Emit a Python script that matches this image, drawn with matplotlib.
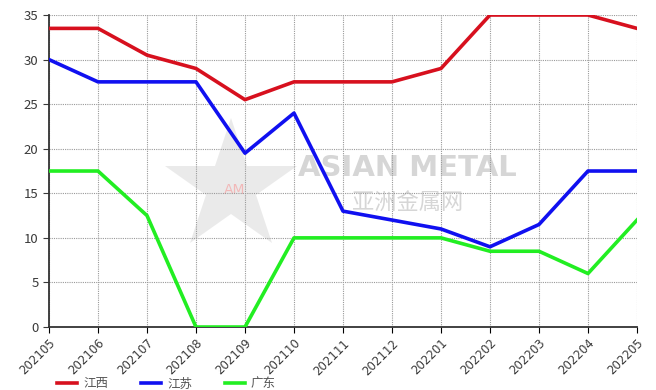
import matplotlib.pyplot as plt
import numpy as np

plt.rcParams['font.family'] = ['Noto Sans CJK SC', 'DejaVu Sans']

months = ['202105', '202106', '202107', '202108', '202109', '202110', '202111',
          '202112', '202201', '202202', '202203', '202204', '202205']
jiangxi = [33.5, 33.5, 30.5, 29, 25.5, 27.5, 27.5, 27.5, 29, 35, 35, 35, 33.5]
jiangsu = [30, 27.5, 27.5, 27.5, 19.5, 24, 13, 12, 11, 9, 11.5, 17.5, 17.5]
guangdong = [17.5, 17.5, 12.5, 0, 0, 10, 10, 10, 10, 8.5, 8.5, 6, 12]

series = [('江西', jiangxi, '#d7101e'), ('江苏', jiangsu, '#1010f0'), ('广东', guangdong, '#22ee22')]

fig = plt.figure(figsize=(6.56, 3.9), dpi=100)
ax = fig.add_axes([0.0747, 0.1615, 0.8963, 0.80])

x = np.arange(len(months))

# watermark
ax.plot([0.31], [0.45], marker='*', markersize=100, color='#e2e2e2', alpha=0.7,
        transform=ax.transAxes, zorder=0, markeredgewidth=0)
ax.text(0.315, 0.44, 'AM', color='#f2b8b8', fontsize=10, ha='center', va='center',
        transform=ax.transAxes, zorder=0, family='DejaVu Sans')
ax.text(0.61, 0.51, 'ASIAN METAL', color='#d6d6d6', fontsize=21, fontweight='bold',
        ha='center', va='center', transform=ax.transAxes, zorder=0, family='DejaVu Sans')
ax.text(0.61, 0.40, '亚洲金属网', color='#d6d6d6', fontsize=16, ha='center', va='center',
        transform=ax.transAxes, zorder=0)

for name, vals, col in series:
    ax.plot(x, vals, color=col, linewidth=2.6, label=name, zorder=3)

ax.set_xlim(0, len(months) - 1)
ax.set_ylim(0, 35)
ax.set_yticks(np.arange(0, 36, 5))
ax.set_xticks(x)
ax.set_xticklabels(months, rotation=45, ha='right', rotation_mode='anchor',
                   fontsize=8.5, color='#3a3a3a', family='DejaVu Sans')
ax.tick_params(axis='y', labelsize=9.5, colors='#3a3a3a', length=4)
ax.tick_params(axis='x', length=4, pad=3)
ax.grid(True, linestyle=(0, (1, 1)), color='#9a9a9a', linewidth=0.8)
ax.spines['top'].set_visible(False)
ax.spines['right'].set_visible(False)
for s in ('left', 'bottom'):
    ax.spines[s].set_color('#333333')
    ax.spines[s].set_linewidth(1.3)

leg = fig.legend(loc='lower left', bbox_to_anchor=(0.07, -0.03), ncol=3, frameon=False,
                 fontsize=9, handlelength=1.6, columnspacing=2.6, handletextpad=0.5)
for t in leg.get_texts():
    t.set_color('#555555')

fig.savefig('out.png', dpi=100)
